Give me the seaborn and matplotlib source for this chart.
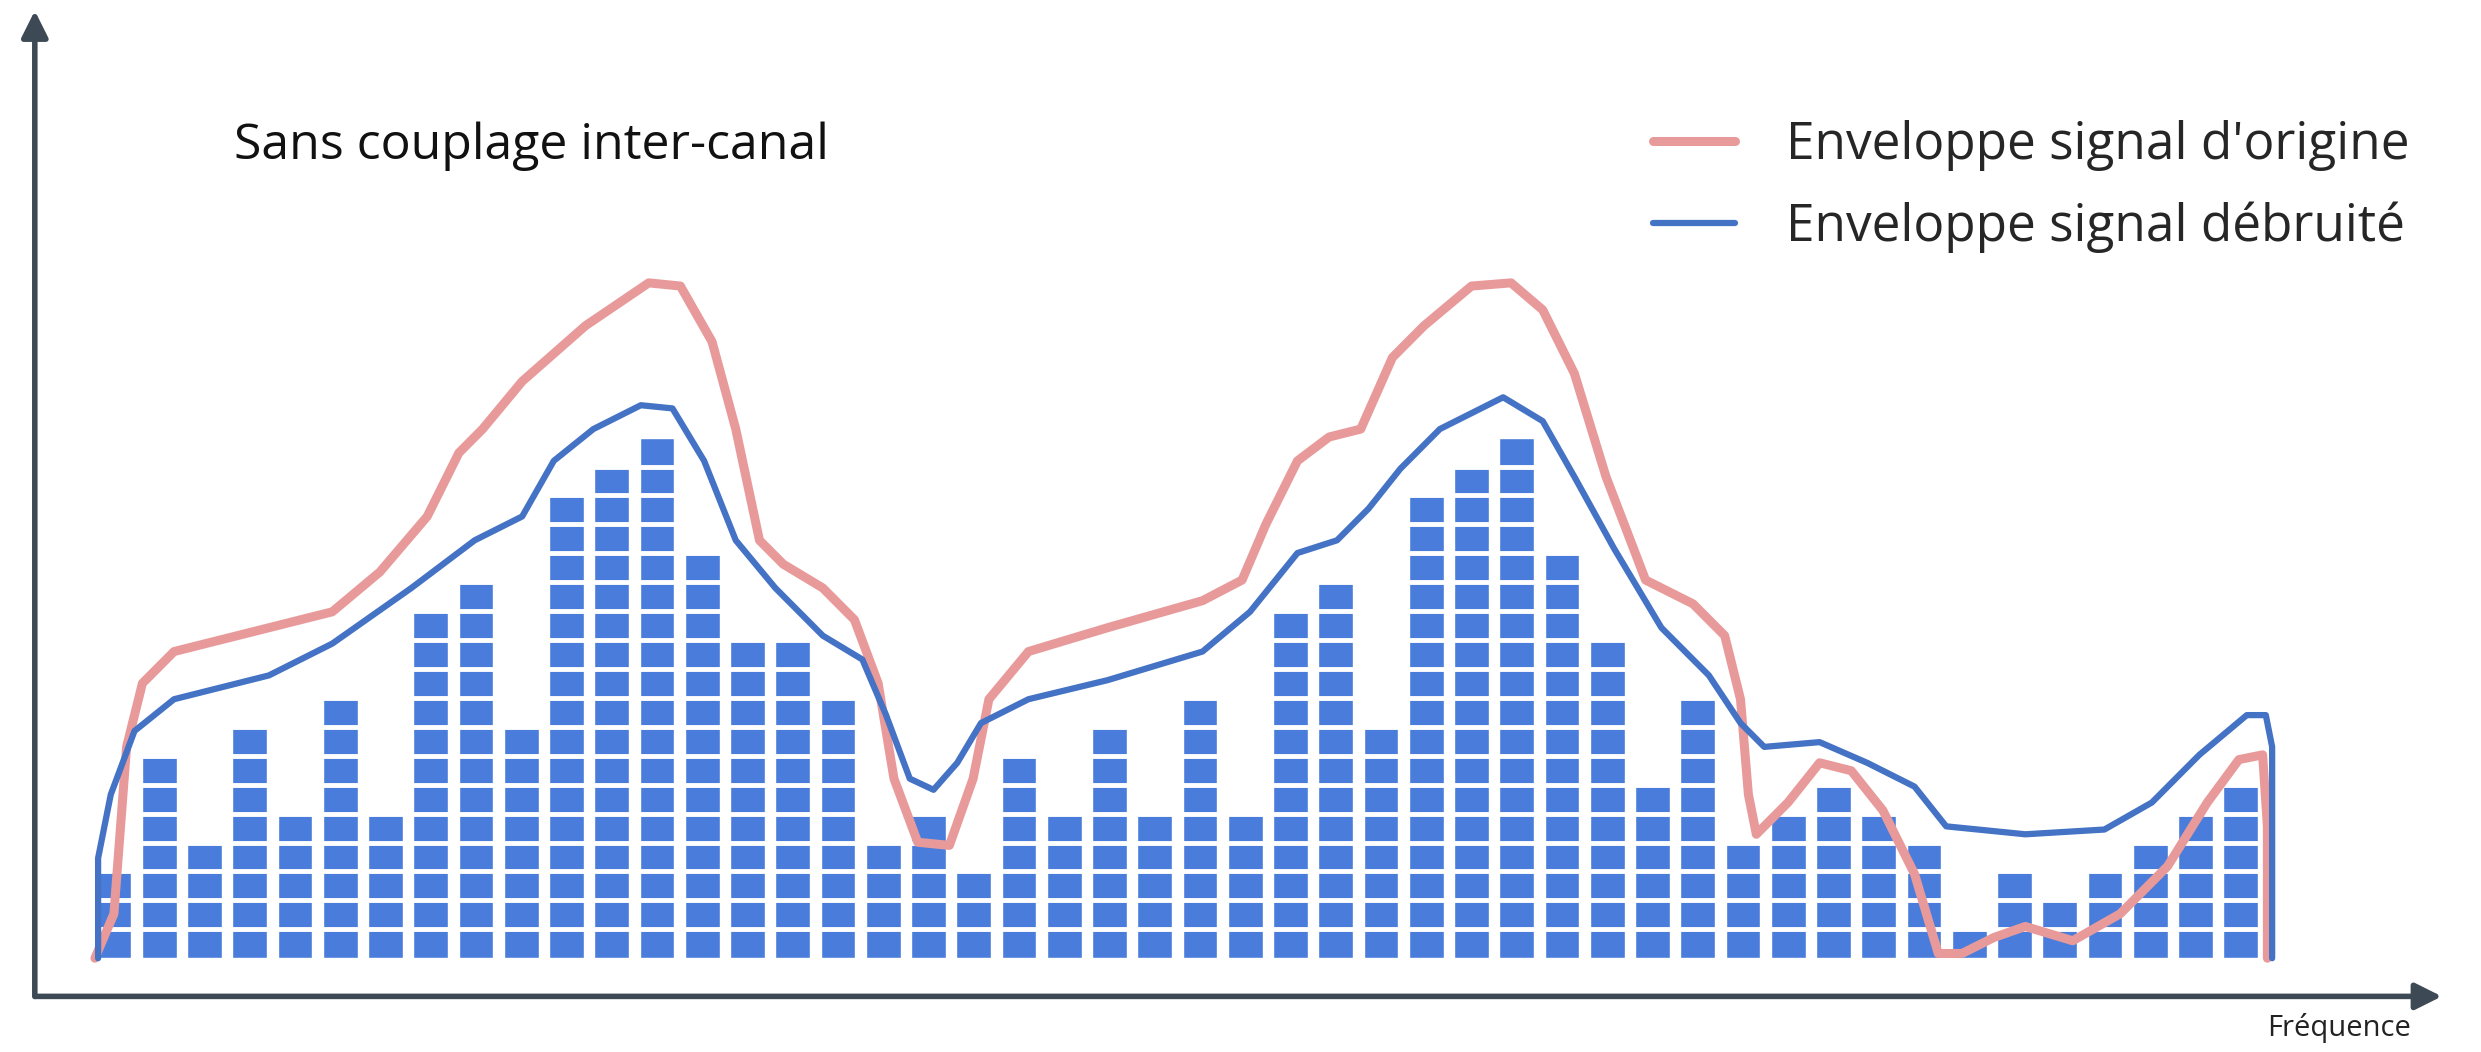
import numpy as np
import pandas as pd
import seaborn as sns
import matplotlib.pyplot as plt

sns.set_theme(style="white")
plt.rcParams['font.family'] = ['Open Sans', 'DejaVu Sans']

# hauteur des barres (en nombre de segments)
heights = [3, 7, 4, 8, 5, 9, 5, 12, 13, 8, 16, 17, 18, 14, 11, 11, 9, 4,
           5, 3, 7, 5, 8, 5, 9, 5, 12, 13, 8, 16, 17, 18, 14, 11, 6, 9,
           4, 5, 6, 5, 4, 1, 3, 2, 3, 4, 5, 6]

# enveloppes (pixels de l'image de référence)
red_px = [(60, 603), (72, 575), (80, 470), (90, 430), (110, 410), (150, 400), (210, 385),
          (240, 360), (270, 325), (290, 285), (305, 270), (330, 240), (370, 205), (410, 178),
          (430, 180), (450, 215), (465, 270), (480, 340), (495, 355), (520, 370), (540, 390),
          (555, 430), (565, 490), (580, 530), (600, 532), (615, 490), (625, 440), (650, 410),
          (700, 395), (760, 378), (785, 365), (800, 330), (820, 290), (840, 275), (860, 270),
          (880, 225), (900, 205), (930, 180), (955, 178), (975, 195), (995, 235), (1015, 300),
          (1040, 365), (1070, 380), (1090, 400), (1100, 440), (1105, 500), (1110, 525),
          (1130, 505), (1150, 480), (1170, 485), (1190, 510), (1210, 550), (1225, 600),
          (1240, 600), (1260, 590), (1280, 583), (1310, 592), (1340, 575), (1370, 545),
          (1395, 505), (1415, 478), (1430, 475), (1433, 520), (1433, 603)]
blue_px = [(62, 603), (62, 540), (70, 500), (85, 460), (110, 440), (170, 425), (210, 405),
           (260, 370), (300, 340), (330, 325), (350, 290), (375, 270), (405, 255), (425, 257),
           (445, 290), (465, 340), (490, 370), (520, 400), (545, 415), (560, 450), (575, 490),
           (590, 497), (605, 480), (620, 455), (650, 440), (700, 428), (760, 410), (790, 385),
           (820, 348), (845, 340), (865, 320), (885, 295), (910, 270), (950, 250), (975, 265),
           (995, 300), (1020, 345), (1050, 395), (1080, 425), (1100, 455), (1115, 470),
           (1150, 467), (1180, 480), (1210, 495), (1230, 520), (1280, 525), (1330, 522),
           (1360, 505), (1390, 475), (1420, 450), (1432, 450), (1436, 470), (1436, 603)]

def to_data(pts):
    a = np.array(pts, dtype=float)
    return (a[:, 0] - 72) / 28.6, (603 - a[:, 1]) / 18.2

fig = plt.figure(figsize=(24.81, 10.52), dpi=100)
ax = fig.add_axes([0, 0, 1, 1])

df = pd.DataFrame({"x": range(len(heights)), "h": heights})
sns.barplot(data=df, x="x", y="h", color="#4a7ddb", saturation=1, width=0.77, ax=ax)
for k in range(1, max(heights)):
    ax.axhline(k, color="white", lw=3.5, zorder=2.5)

rx, ry = to_data(red_px)
bx, by = to_data(blue_px)
ax.plot(rx, ry, color="#e89a9a", lw=6.5, solid_joinstyle="round", solid_capstyle="round",
        zorder=3, label="Enveloppe signal d'origine")
ax.plot(bx, by, color="#4472c4", lw=4.5, solid_joinstyle="round", solid_capstyle="round",
        zorder=4, label="Enveloppe signal débruité")

ax.set_xlim(-72 / 28.6, (1568 - 72) / 28.6)
ax.set_ylim((603 - 662) / 18.2, 603 / 18.2)
ax.axis("off")

# axes avec flèches
x0, y0 = to_data([(22, 627)])
x1, _ = to_data([(1545, 627)])
_, y1 = to_data([(22, 5)])
ax.annotate("", xy=(x1[0], y0[0]), xytext=(x0[0] - 0.05, y0[0]),
            arrowprops=dict(arrowstyle="-|>", color="#3d4a55", lw=4, mutation_scale=40))
ax.annotate("", xy=(x0[0], y1[0]), xytext=(x0[0], y0[0] - 0.1),
            arrowprops=dict(arrowstyle="-|>", color="#3d4a55", lw=4, mutation_scale=40))

tx, ty = to_data([(148, 92)])
ax.text(tx[0], ty[0], "Sans couplage inter-canal", fontsize=36, va="center", ha="left", color="#111111")
fx, fy = to_data([(1478, 647)])
ax.text(fx[0], fy[0], "Fréquence", fontsize=21, va="center", ha="center", color="#222222")

ax.legend(loc="upper right", bbox_to_anchor=(0.99, 0.93), frameon=False, fontsize=37,
          handlelength=1.6, handletextpad=1.0, labelspacing=0.6)

fig.savefig("out.png", dpi=100)
